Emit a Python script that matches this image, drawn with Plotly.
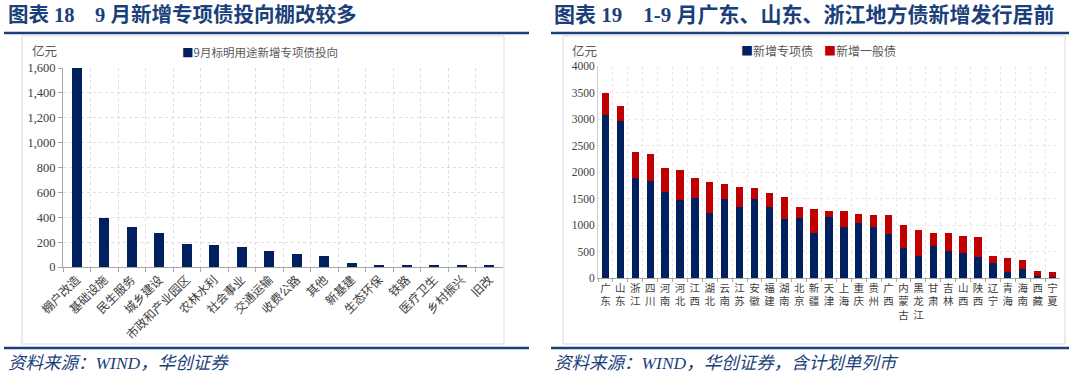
import plotly.graph_objects as go

W, H = 1069, 376

# ---- Data: left chart (图表18) ----
cat_left = ["棚户改造", "基础设施", "民生服务", "城乡建设", "市政和产业园区", "农林水利", "社会事业",
            "交通运输", "收费公路", "其他", "新基建", "生态环保", "铁路", "医疗卫生", "乡村振兴", "旧改"]
val_left = [1598, 395, 319, 277, 188, 177, 158, 129, 107, 91, 32, 19, 19, 19, 16, 11]

# ---- Data: right chart (图表19) ----
provinces = ["广东", "山东", "浙江", "四川", "河南", "河北", "江西", "湖北", "云南", "江苏", "安徽",
             "福建", "湖南", "北京", "新疆", "天津", "上海", "重庆", "贵州", "广西", "内蒙古", "黑龙江",
             "甘肃", "吉林", "山西", "陕西", "辽宁", "青海", "海南", "西藏", "宁夏"]
special = [3082, 2969, 1893, 1830, 1617, 1478, 1516, 1220, 1484, 1346, 1491, 1346, 1113, 1126, 855,
           1151, 956, 1038, 969, 824, 566, 409, 604, 516, 478, 403, 277, 120, 170, 44, 13]
general = [415, 271, 485, 504, 452, 554, 371, 592, 283, 377, 201, 252, 415, 220, 453,
           119, 314, 170, 226, 359, 434, 503, 239, 327, 315, 377, 144, 251, 176, 94, 107]

NAVY = "#002060"
RED = "#C00000"
TITLE_BLUE = "#1B3F7A"
GRAY_TXT = "#404040"
SERIF = "Liberation Serif, Noto Sans CJK SC"
CJK = "Noto Sans CJK SC"

prov_labels = ["<br>".join(p) for p in provinces]

fig = go.Figure()
fig.add_trace(go.Bar(x=cat_left, y=val_left, marker_color=NAVY, width=0.36,
                     xaxis="x", yaxis="y", name="9月标明用途新增专项债投向"))
fig.add_trace(go.Bar(x=prov_labels, y=special, marker_color=NAVY, width=0.49,
                     xaxis="x2", yaxis="y2", name="新增专项债"))
fig.add_trace(go.Bar(x=prov_labels, y=general, marker_color=RED, width=0.49,
                     xaxis="x2", yaxis="y2", name="新增一般债"))


def px(x):
    return x / W


def py(y):
    return 1 - y / H


grid = dict(showgrid=True, gridcolor="#DDDDDD", griddash="dot", gridwidth=1)

fig.update_layout(
    template="none",
    width=W, height=H, margin=dict(l=0, r=0, t=0, b=0, pad=0, autoexpand=False),
    paper_bgcolor="white", plot_bgcolor="white",
    barmode="stack", showlegend=False,
    xaxis=dict(domain=[px(63), px(503)], anchor="y", type="category", tickson="boundaries", automargin=False,
               ticks="outside", ticklen=4, tickcolor="#A6A6A6", showline=True, linecolor="#A6A6A6",
               tickangle=-45, tickfont=dict(family=CJK, size=12, color=GRAY_TXT), **grid),
    yaxis=dict(domain=[py(267), py(68)], anchor="x", range=[0, 1600], dtick=200, tickformat=",",
               automargin=False,
               ticks="outside", ticklen=4, tickcolor="#A6A6A6", showline=True, linecolor="#A6A6A6",
               tickfont=dict(family=SERIF, size=12.5, color=GRAY_TXT), zeroline=False, **grid),
    xaxis2=dict(domain=[px(598), px(1060)], anchor="y2", type="category", tickson="boundaries", automargin=False,
                ticks="outside", ticklen=3, tickcolor="#A6A6A6", showline=True, linecolor="#A6A6A6",
                tickangle=0, tickfont=dict(family=CJK, size=10.5, color=GRAY_TXT),
                showgrid=True, gridcolor="#E8E8E8", griddash="dot"),
    yaxis2=dict(domain=[py(278), py(66)], anchor="x2", range=[0, 4000], dtick=500, tickformat="d",
                automargin=False,
                ticks="", showline=True, linecolor="#D0D0D0",
                tickfont=dict(family=SERIF, size=11.5, color=GRAY_TXT), zeroline=False,
                showgrid=True, gridcolor="#E8E8E8", griddash="dot"),
)

shapes = []
# boxes
shapes.append(dict(type="rect", xref="paper", yref="paper", x0=px(22), x1=px(504), y0=py(344), y1=py(36),
                   line=dict(color="#D9D9D9", width=1), layer="below"))
shapes.append(dict(type="rect", xref="paper", yref="paper", x0=px(563), x1=px(1065), y0=py(344), y1=py(36),
                   line=dict(color="#D9D9D9", width=1), layer="below"))
# title underlines and bottom rules
for (x0, x1) in [(4, 529), (551, 1069)]:
    for yy in [33, 348]:
        shapes.append(dict(type="line", xref="paper", yref="paper", x0=px(x0), x1=px(x1), y0=py(yy), y1=py(yy),
                           line=dict(color=TITLE_BLUE, width=2.5)))
fig.update_layout(shapes=shapes)

ann = []
ann.append(dict(text="图表 18 &nbsp;&nbsp; 9 月新增专项债投向棚改较多", x=px(6), y=py(15), xanchor="left", yanchor="middle",
                font=dict(family=SERIF, size=20.5, color=TITLE_BLUE, weight="bold")))
ann.append(dict(text="图表 19 &nbsp;&nbsp; 1-9 月广东、山东、浙江地方债新增发行居前", x=px(552), y=py(15), xanchor="left",
                yanchor="middle", font=dict(family=SERIF, size=21, color=TITLE_BLUE, weight="bold")))
ann.append(dict(text="资料来源：WIND，华创证券", x=px(6), y=py(363), xanchor="left", yanchor="middle",
                font=dict(family=SERIF, size=17.5, color=TITLE_BLUE, style="italic")))
ann.append(dict(text="资料来源：WIND，华创证券，含计划单列市", x=px(552), y=py(363), xanchor="left", yanchor="middle",
                font=dict(family=SERIF, size=17.5, color=TITLE_BLUE, style="italic")))
ann.append(dict(text="亿元", x=px(30), y=py(51), xanchor="left", yanchor="middle",
                font=dict(family=CJK, size=12.5, color="#595959")))
ann.append(dict(text="亿元", x=px(570), y=py(50), xanchor="left", yanchor="middle",
                font=dict(family=CJK, size=12.5, color="#595959")))
ann.append(dict(text=f"<span style='color:{NAVY}'>■</span>9月标明用途新增专项债投向", x=px(180), y=py(52),
                xanchor="left", yanchor="middle", font=dict(family=CJK, size=11.5, color="#595959")))
ann.append(dict(text=f"<span style='color:{NAVY}'>■</span>新增专项债", x=px(739), y=py(51),
                xanchor="left", yanchor="middle", font=dict(family=CJK, size=12, color="#595959")))
ann.append(dict(text=f"<span style='color:{RED}'>■</span>新增一般债", x=px(822), y=py(51),
                xanchor="left", yanchor="middle", font=dict(family=CJK, size=12, color="#595959")))
for a in ann:
    a.update(xref="paper", yref="paper", showarrow=False)
fig.update_layout(annotations=ann)

fig.write_html("out.html", config={"displayModeBar": False},
               post_script="document.body.style.margin='0';")
